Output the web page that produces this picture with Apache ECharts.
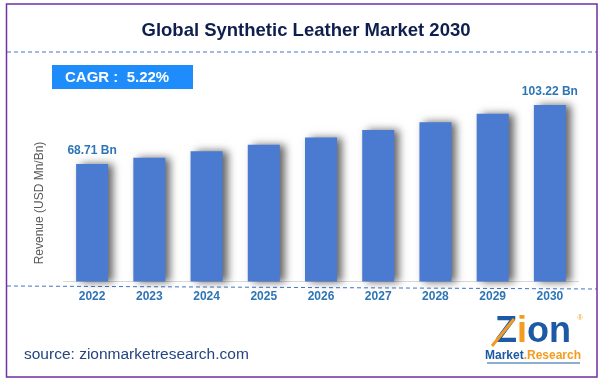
<!DOCTYPE html>
<html><head><meta charset="utf-8">
<script src="https://cdn.jsdelivr.net/npm/echarts@6/dist/echarts.min.js"></script>
<style>html,body{margin:0;padding:0;background:#fff}#c{width:601px;height:383px}</style>
</head><body><div id="c"></div>
<script>
const categories = ['2022','2023','2024','2025','2026','2027','2028','2029','2030'];
const revenue = [68.71, 72.3, 76.1, 80.0, 84.2, 88.6, 93.2, 98.1, 103.22];
const labelledIndex = [0, 8];
const labelText = ['68.71 Bn', '103.22 Bn'];
const titleText = 'Global Synthetic Leather Market 2030';
const cagrText = 'CAGR :  5.22%';
const axisNameText = 'Revenue (USD Mn/Bn)';
const sourceText = 'source: zionmarketresearch.com';

const chart = echarts.init(document.getElementById('c'), null, {renderer: 'canvas'});
const FONT = 'Liberation Sans, Arial, sans-serif';
const LBL = '#2e75b6';

const data = revenue.map((v, i) => {
  const k = labelledIndex.indexOf(i);
  return k >= 0 ? {value: v, label: {show: true, formatter: labelText[k]}} : v;
});

chart.setOption({
  animation: false,
  backgroundColor: '#fff',
  grid: {left: 63.5, right: 22.5, top: 76.3, bottom: 101.5},
  xAxis: {
    type: 'category', data: categories,
    axisLine: {show: true, lineStyle: {color: '#d9d9d9', width: 1}},
    axisTick: {show: false},
    axisLabel: {color: LBL, fontWeight: 'bold', fontSize: 12, fontFamily: FONT, margin: 9}
  },
  yAxis: {
    type: 'value', min: 0, max: 120,
    axisLine: {show: false}, axisTick: {show: false},
    axisLabel: {show: false}, splitLine: {show: false}
  },
  series: [{
    type: 'bar', data: data, barWidth: 32,
    itemStyle: {color: '#4a7bd0', shadowColor: 'rgba(0,0,0,0.6)', shadowBlur: 8, shadowOffsetX: 5, shadowOffsetY: 0},
    label: {show: false, position: 'top', distance: 7, color: LBL, fontWeight: 'bold', fontSize: 12, fontFamily: FONT}
  }],
  graphic: [
    {type: 'rect', shape: {x: 6.5, y: 4, width: 590.5, height: 373}, style: {fill: 'none', stroke: '#7030a0', lineWidth: 1.5}, z: 10},
    {type: 'text', x: 306, y: 31, style: {text: titleText, fill: '#0f1f4d', font: 'bold 18.5px ' + FONT, align: 'center', verticalAlign: 'middle'}},
    {type: 'line', shape: {x1: 7, y1: 52, x2: 597, y2: 52}, style: {stroke: '#4472c4', lineWidth: 1, lineDash: [4, 3]}},
    {type: 'line', shape: {x1: 7, y1: 286, x2: 597, y2: 289}, style: {stroke: '#4472c4', lineWidth: 1, lineDash: [4, 3]}},
    {type: 'rect', shape: {x: 52, y: 65, width: 141, height: 24}, style: {fill: '#1e8cfa'}},
    {type: 'text', x: 65, y: 77.5, style: {text: cagrText, fill: '#fff', font: 'bold 15px ' + FONT, verticalAlign: 'middle'}},
    {type: 'text', x: 40, y: 203, rotation: Math.PI / 2, style: {text: axisNameText, fill: '#595959', font: '12px ' + FONT, align: 'center', verticalAlign: 'middle'}},
    {type: 'text', x: 24, y: 355, style: {text: sourceText, fill: '#25457f', font: '15.5px ' + FONT, verticalAlign: 'middle'}},
    {type: 'text', x: 533, y: 332, style: {
      text: '{b|Z}{o|i}{b|on}', align: 'center', verticalAlign: 'middle',
      rich: {b: {fill: '#1d5aa5', font: 'bold 36px ' + FONT}, o: {fill: '#f39c1f', font: 'bold 36px ' + FONT}}
    }},
    {type: 'line', shape: {x1: 492, y1: 346, x2: 514, y2: 319}, style: {stroke: '#f39c1f', lineWidth: 3}},
    {type: 'text', x: 533, y: 356, style: {
      text: '{b|Market}{o|.Research}', align: 'center', verticalAlign: 'middle',
      rich: {b: {fill: '#1d5aa5', font: 'bold 12px ' + FONT}, o: {fill: '#f39c1f', font: 'bold 12px ' + FONT}}
    }},
    {type: 'line', shape: {x1: 487, y1: 363, x2: 580, y2: 363}, style: {stroke: '#1d5aa5', lineWidth: 1}},
    {type: 'text', x: 580, y: 318, style: {text: '®', fill: '#f39c1f', font: '7px ' + FONT, align: 'center', verticalAlign: 'middle'}}
  ]
});
</script></body></html>
